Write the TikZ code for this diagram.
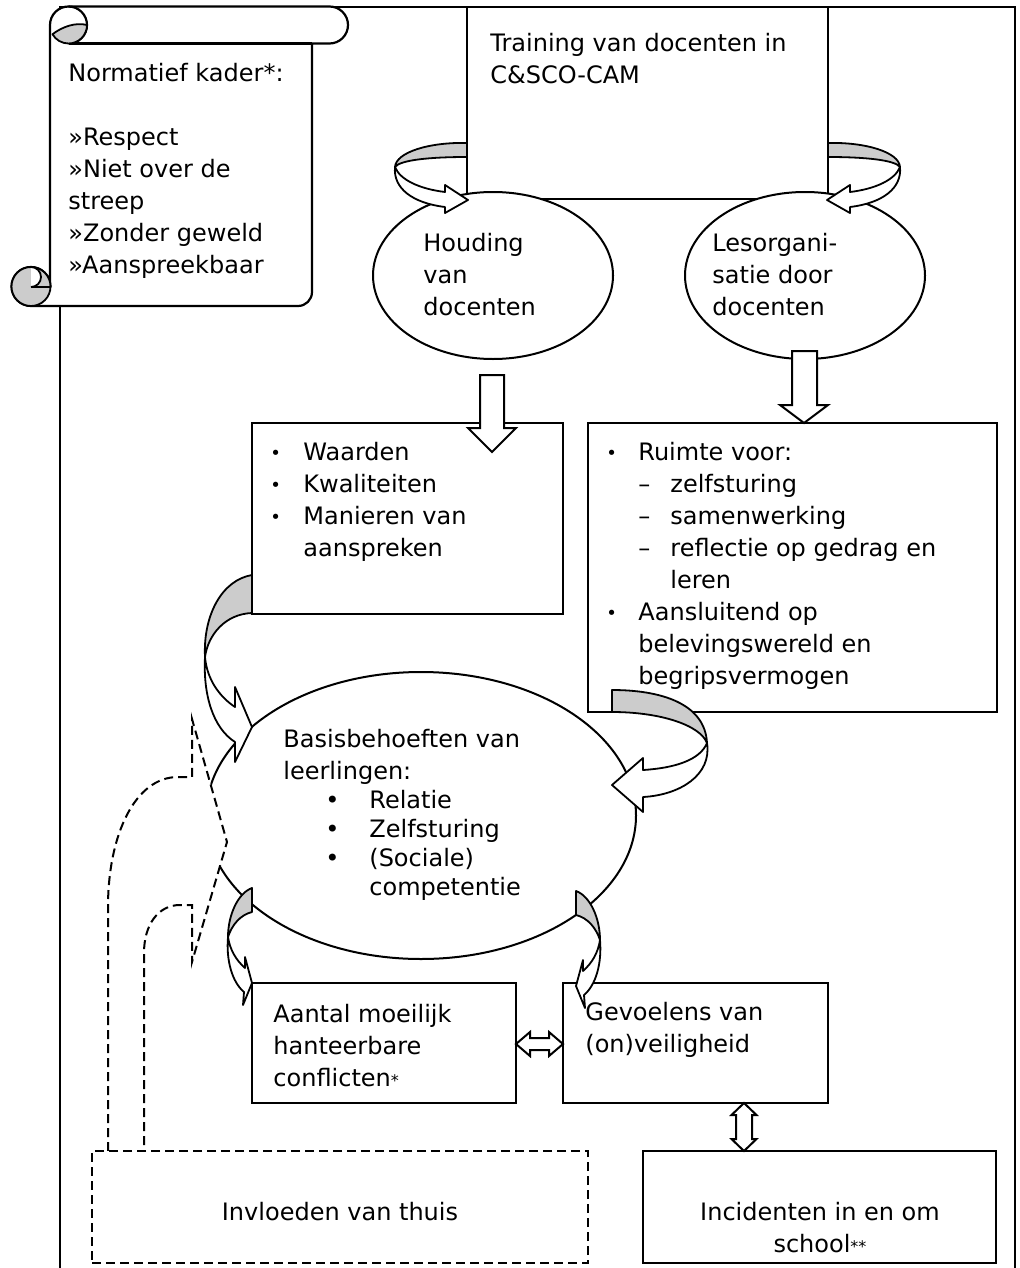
\documentclass[tikz,border=0pt]{standalone}
\usepackage{fontspec}
\setmainfont{DejaVu Sans}
\usetikzlibrary{shapes.geometric, fit}

\tikzset{
  box/.style={draw, fill=white, line width=1.1pt, inner sep=0pt},
  dashbox/.style={box, dash pattern=on 4.5pt off 2.5pt},
  oval/.style={ellipse, draw, fill=white, line width=1pt, inner sep=0pt},
  txt/.style={inner sep=0pt, anchor=north west, align=left, font=\fontsize{12}{16}\selectfont},
  band/.style={draw, fill=white, line width=0.9pt, line join=round},
  bandback/.style={draw, fill=black!20, line width=0.9pt, line join=round},
  blockarrow/.style={draw, fill=white, line width=1pt, line join=miter}
}
\newcommand{\smallbullet}{{\fontsize{9}{9}\selectfont\raisebox{0.5pt}{•}}}
\newcommand{\smallstar}{{\fontsize{8}{8}\selectfont *}}

\begin{document}
\begin{tikzpicture}[x=0.5pt, y=-0.5pt]
\useasboundingbox (0,0) rectangle (1020,1268);

% outer frame
\draw[line width=1.1pt] (60,1275) -- (60,7) -- (1015,7) -- (1015,1275);

% scroll
\draw[box] (50,287) -- (50,25) arc[start angle=180, end angle=270, radius=18.5]
  -- (329.5,6.5) arc[start angle=-90, end angle=90, radius=18.5]
  -- (312,43.5) -- (312,292) arc[start angle=0, end angle=90, radius=14]
  -- (31,306) arc[start angle=90, end angle=360, radius=19.5] -- cycle;
\draw[line width=1.1pt] (68.5,43.5) -- (312,43.5);
\draw[line width=1.1pt] (68.5,6.5) arc[start angle=270, end angle=450, radius=18.5];
\draw[bandback] (87,25) arc[start angle=0, end angle=150, radius=18.5]
  .. controls (62,27) and (75,22) .. (87,25) -- cycle;
\draw[bandback] (31,286.5) circle[radius=19.5];
\draw[fill=white, line width=0.9pt] (31,267) arc[start angle=270, end angle=450, radius=10];
\draw[line width=0.9pt] (31,287) -- (50,287);
\node[txt] (kader) at (68,58.6) {\strut Normatief kader*:\\ \\ »Respect\\ »Niet over de\\ streep\\ »Zonder geweld\\ »Aanspreekbaar};

% training
\node[box, fit={(467,7) (828,199)}] (training) {};
\node[txt] (trainingtxt) at (490,29) {\strut Training van docenten in\\ C\&SCO-CAM};

% teacher ovals
\node[oval, minimum width=120pt, minimum height=83.5pt] (houding) at (493,275.5) {};
\node[oval, minimum width=120pt, minimum height=83.5pt] (lesorg) at (805,275.5) {};
\node[txt] (houdingtxt) at (423,228.6) {\strut Houding\\ van\\ docenten};
\node[txt] (lesorgtxt) at (712,228.6) {\strut Lesorgani-\\ satie door\\ docenten};

% curls from training
\draw[bandback] (467,143) .. controls (430,142) and (396,152) .. (395,167)
  .. controls (400,160) and (430,157) .. (467,157) -- cycle;
\draw[band] (395,167) .. controls (400,180) and (420,189) .. (445,192)
  -- (445,185) -- (468,200) -- (445,213) -- (445,207)
  .. controls (412,203) and (393,188) .. (395,167) -- cycle;
\draw[bandback] (828,143) .. controls (865,142) and (899,152) .. (900,167)
  .. controls (895,160) and (865,157) .. (828,157) -- cycle;
\draw[band] (900,167) .. controls (895,180) and (875,189) .. (850,192)
  -- (850,185) -- (827,200) -- (850,213) -- (850,207)
  .. controls (883,203) and (902,188) .. (900,167) -- cycle;

% middle boxes
\node[box, fit={(252,423) (563,614)}] (waarden) {};
\node[txt] (waardentxt) at (270,437.6) {\strut\makebox[16.5pt][l]{\smallbullet}Waarden\\
  \makebox[16.5pt][l]{\smallbullet}Kwaliteiten\\
  \makebox[16.5pt][l]{\smallbullet}Manieren van\\
  \hspace*{16.5pt}aanspreken};
\node[box, fit={(588,423) (997,712)}] (ruimte) {};
\node[txt] (ruimtetxt) at (606,437.6) {\strut\makebox[16pt][l]{\smallbullet}Ruimte voor:\\
  \hspace*{16pt}\makebox[16pt][l]{–}zelfsturing\\
  \hspace*{16pt}\makebox[16pt][l]{–}samenwerking\\
  \hspace*{16pt}\makebox[16pt][l]{–}reflectie op gedrag en\\
  \hspace*{32pt}leren\\
  \makebox[16pt][l]{\smallbullet}Aansluitend op\\
  \hspace*{16pt}belevingswereld en\\
  \hspace*{16pt}begripsvermogen};

% block arrows down
\draw[blockarrow] (480,375) -- (504,375) -- (504,428) -- (516,428) -- (492,452)
  -- (468,428) -- (480,428) -- cycle;
\draw[blockarrow] (792,351) -- (817,351) -- (817,405) -- (828,405) -- (804,423)
  -- (780,405) -- (792,405) -- cycle;

% basic needs
\node[oval, minimum width=215pt, minimum height=143.5pt] (basis) at (421,815.5) {};

% influence from home (dashed bent arrow)
\draw[fill=white, line width=1pt, dash pattern=on 4.5pt off 2.5pt]
  (108,1151) -- (108,907) .. controls (108,835) and (135,777) .. (178,777)
  -- (192,777) -- (192,719) -- (227,842) -- (192,962) -- (192,905) -- (180,905)
  .. controls (158,905) and (144,925) .. (144,953) -- (144,1151);

\node[txt] (basistxt) at (283,724.6) {\strut Basisbehoeften van\\ leerlingen:\\[-1.5pt]
  \hspace*{21pt}\makebox[22pt][l]{•}Relatie\\[-1.5pt]
  \hspace*{21pt}\makebox[22pt][l]{•}Zelfsturing\\[-1.5pt]
  \hspace*{21pt}\makebox[22pt][l]{•}(Sociale)\\[-1.5pt]
  \hspace*{43pt}competentie};

% curls into basic needs
\draw[bandback] (252,575) .. controls (222,580) and (203,615) .. (205,657)
  .. controls (208,635) and (225,614) .. (252,613) -- cycle;
\draw[band] (205,657) .. controls (203,695) and (213,728) .. (235,742)
  -- (235,762) -- (252,727) -- (235,687) -- (235,707)
  .. controls (220,697) and (207,680) .. (205,657) -- cycle;
\draw[bandback] (612,690) .. controls (660,690) and (705,703) .. (707,743)
  .. controls (700,725) and (660,712) .. (612,712) -- cycle;
\draw[band] (707,743) .. controls (712,775) and (680,795) .. (643,797)
  -- (643,812) -- (612,785) -- (643,758) -- (643,770)
  .. controls (675,768) and (700,760) .. (707,743) -- cycle;

% lower boxes
\node[box, fit={(252,983) (516,1103)}] (aantal) {};
\node[txt] (aantaltxt) at (273,999.6) {\strut Aantal moeilijk\\ hanteerbare\\ conflicten\smallstar};
\node[box, fit={(563,983) (828,1103)}] (gevoelens) {};
\node[txt] (gevoelenstxt) at (585,997.6) {\strut Gevoelens van\\ (on)veiligheid};

% curls out of basic needs
\draw[bandback] (252,888) .. controls (238,893) and (228,915) .. (228,937)
  .. controls (232,925) and (240,915) .. (252,912) -- cycle;
\draw[band] (228,937) .. controls (226,960) and (232,982) .. (244,992)
  -- (243,1005) -- (252,983) -- (245,957) -- (245,968)
  .. controls (236,960) and (230,950) .. (228,937) -- cycle;
\draw[bandback] (576,891) .. controls (590,896) and (600,918) .. (600,940)
  .. controls (596,928) and (588,918) .. (576,915) -- cycle;
\draw[band] (600,940) .. controls (602,963) and (596,985) .. (584,995)
  -- (585,1008) -- (576,986) -- (583,960) -- (583,971)
  .. controls (592,963) and (598,953) .. (600,940) -- cycle;

% two-way arrows
\draw[blockarrow] (516,1044) -- (530,1032) -- (530,1038) -- (549,1038) -- (549,1032)
  -- (563,1044) -- (549,1056) -- (549,1050) -- (530,1050) -- (530,1056) -- cycle;

% bottom boxes
\node[dashbox, fit={(92,1151) (588,1263)}] (invloeden) {};
\node[txt, anchor=base] (invloedentxt) at (340,1220) {Invloeden van thuis};
\node[box, fit={(643,1151) (996,1263)}] (incidenten) {};
\node[txt, anchor=north, align=center] (incidententxt) at (820,1197.6) {\strut Incidenten in en om\\ school\smallstar\smallstar};

\draw[blockarrow] (744,1103) -- (756.5,1115) -- (752,1115) -- (752,1139) -- (756.5,1139)
  -- (744,1151) -- (731.5,1139) -- (736,1139) -- (736,1115) -- (731.5,1115) -- cycle;

\end{tikzpicture}
\end{document}
